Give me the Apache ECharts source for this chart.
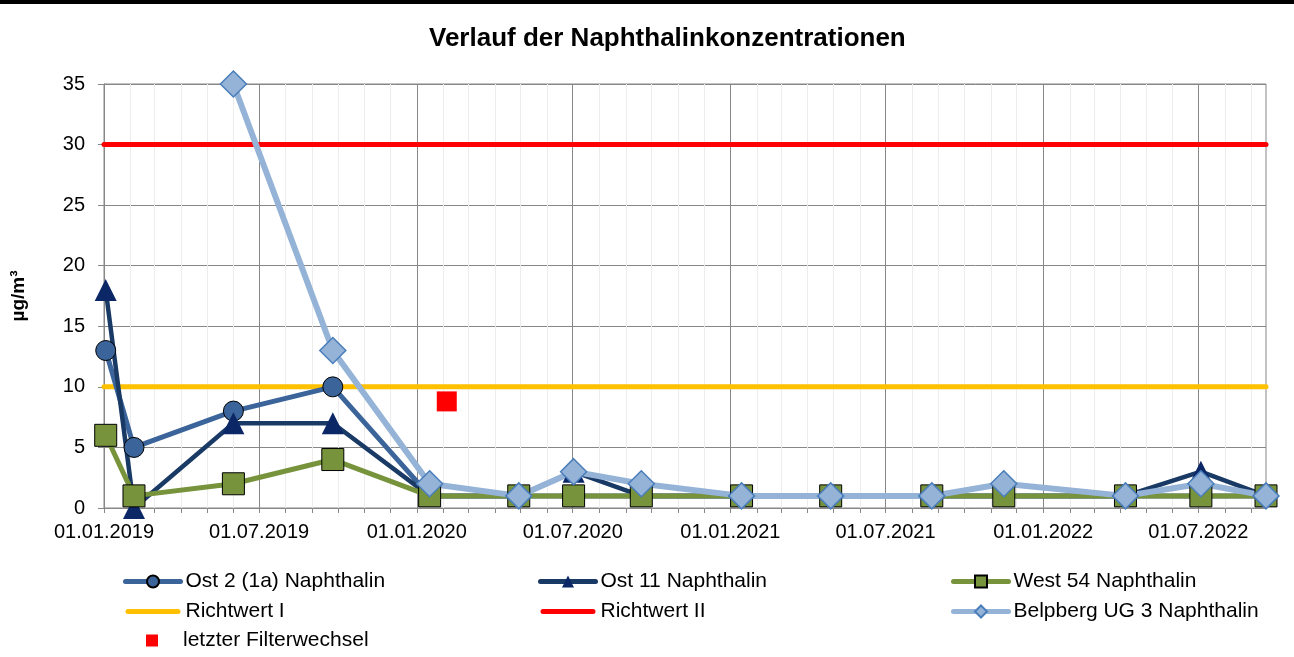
<!DOCTYPE html>
<html>
<head>
<meta charset="utf-8">
<title>Verlauf der Naphthalinkonzentrationen</title>
<script src="https://cdn.jsdelivr.net/npm/echarts@6/dist/echarts.min.js"></script>
<style>
  html, body { margin: 0; padding: 0; background: #fff; }
  #chart { width: 1294px; height: 657px; }
</style>
</head>
<body>
<div id="chart"></div>
<script>
// Messtermine und Werte (µg/m³)
var dates = ['2019-01-03', '2019-02-05', '2019-06-01', '2019-09-25', '2020-01-16', '2020-04-29', '2020-07-02',
             '2020-09-19', '2021-01-14', '2021-04-28', '2021-08-24', '2021-11-16', '2022-04-07', '2022-07-04', '2022-09-18'];
var ost2     = [13, 5, 8, 10, 1, 1, 1, 1, 1, 1, 1, 1, 1, 1, 1];
var ost11    = [18, 0, 7, 7, 1, 1, 3, 1, 1, 1, 1, 1, 1, 3, 1];
var west54   = [6, 1, 2, 4, 1, 1, 1, 1, 1, 1, 1, 1, 1, 1, 1];
var belpberg = [null, null, 35, 13, 2, 1, 3, 2, 1, 1, 1, 2, 1, 2, 1];

var filterDates  = ['2020-02-05'];
var filterValues = [8.8];

var richtDates = ['2019-01-01', '2022-09-18'];
var richtwert1 = [10, 10];
var richtwert2 = [30, 30];

var xLabelDates = ['2019-01-01', '2019-07-01', '2020-01-01', '2020-07-01',
                   '2021-01-01', '2021-07-01', '2022-01-01', '2022-07-01'];

var fontFamily = '"Liberation Sans", Arial, sans-serif';

// Datum als lokale Zeit (Zeitstempel in ms)
function ts(s) {
    var p = s.split('-');
    return new Date(+p[0], +p[1] - 1, +p[2]).getTime();
}
function pairs(xs, ys) {
    return xs.map(function (d, i) { return [ts(d), ys[i]]; });
}
function pad(n) { return n < 10 ? '0' + n : '' + n; }

var axisMin = ts(richtDates[0]);
var axisMax = ts(richtDates[1]);

// Monatliche Hilfslinien
var monthTicks = [];
for (var y = 2019; y <= 2022; y++) {
    for (var m = 0; m < 12; m++) {
        var t = new Date(y, m, 1).getTime();
        if (t >= axisMin && t <= axisMax) monthTicks.push(t);
    }
}
var gridColors = ['#878787', '#ececec', '#ececec', '#ececec', '#ececec', '#ececec'];

var barIcon = 'path://M2.5,0 L52.5,0 A2.5,2.5 0 0 1 52.5,5 L2.5,5 A2.5,2.5 0 0 1 2.5,0 Z';

var legendBase = {
    orient: 'vertical',
    itemWidth: 55,
    itemHeight: 15,
    itemGap: 9,
    padding: 0,
    top: 571,
    lineStyle: { width: 5, cap: 'round' },
    textStyle: { fontSize: 21, color: '#000', fontFamily: fontFamily }
};

var myChart = echarts.init(document.getElementById('chart'));
var option = {
    animation: false,
    backgroundColor: '#fff',
    textStyle: { fontFamily: fontFamily },
    graphic: [{
        type: 'rect', left: 0, top: 0,
        shape: { width: 1294, height: 4 },
        style: { fill: '#000' }
    }],
    title: {
        text: 'Verlauf der Naphthalinkonzentrationen',
        left: 429,
        top: 26,
        padding: 0,
        textStyle: { fontSize: 26, fontWeight: 'bold', color: '#000', fontFamily: fontFamily }
    },
    legend: [
        Object.assign({}, legendBase, {
            left: 123,
            data: ['Ost 2 (1a) Naphthalin',
                   { name: 'Richtwert I', icon: barIcon, itemStyle: { color: '#ffc000', borderWidth: 0 } }]
        }),
        Object.assign({}, legendBase, {
            left: 538,
            data: ['Ost 11 Naphthalin',
                   { name: 'Richtwert II', icon: barIcon, itemStyle: { color: '#ff0000', borderWidth: 0 } }]
        }),
        Object.assign({}, legendBase, {
            left: 951,
            data: ['West 54 Naphthalin', 'Belpberg UG 3 Naphthalin']
        }),
        Object.assign({}, legendBase, {
            left: 146,
            top: 630,
            itemWidth: 12,
            itemHeight: 12,
            textStyle: { fontSize: 21, color: '#000', fontFamily: fontFamily, padding: [0, 0, 0, 20] },
            data: [{ name: 'letzter Filterwechsel', icon: 'rect', itemStyle: { color: '#ff0000', opacity: 1 } }]
        })
    ],
    grid: {
        left: 104, right: 28, top: 84, bottom: 149,
        show: true, borderColor: '#878787', borderWidth: 1,
        outerBoundsMode: 'none'
    },
    xAxis: {
        type: 'value',
        min: axisMin,
        max: axisMax,
        axisLine: { lineStyle: { color: '#878787', width: 1 } },
        axisTick: { show: true, length: 5, lineStyle: { color: '#878787' }, customValues: monthTicks },
        axisLabel: {
            customValues: xLabelDates.map(ts),
            fontSize: 20,
            color: '#000',
            margin: 14,
            fontFamily: fontFamily,
            formatter: function (v) {
                var d = new Date(v);
                return pad(d.getDate()) + '.' + pad(d.getMonth() + 1) + '.' + d.getFullYear();
            }
        },
        splitLine: { show: true, lineStyle: { color: gridColors, width: 1 } }
    },
    yAxis: {
        type: 'value',
        min: 0,
        max: 35,
        interval: 5,
        name: 'µg/m³',
        nameLocation: 'middle',
        nameRotate: 90,
        nameGap: 76,
        nameTextStyle: { fontSize: 19, fontWeight: 'bold', color: '#000', fontFamily: fontFamily },
        axisLine: { show: true, lineStyle: { color: '#878787' } },
        axisTick: { show: true, length: 6, lineStyle: { color: '#878787' } },
        axisLabel: { fontSize: 20, color: '#000', margin: 19, fontFamily: fontFamily },
        splitLine: { lineStyle: { color: '#878787', width: 1 } }
    },
    series: [
        {
            name: 'Ost 2 (1a) Naphthalin',
            type: 'line',
            data: pairs(dates, ost2),
            symbol: 'circle',
            symbolSize: 20,
            clip: false,
            lineStyle: { color: '#3a649a', width: 5, cap: 'round', join: 'round' },
            itemStyle: { color: '#3a649a', borderColor: '#000', borderWidth: 1 }
        },
        {
            name: 'Ost 11 Naphthalin',
            type: 'line',
            data: pairs(dates, ost11),
            symbol: 'triangle',
            symbolSize: 22,
            clip: false,
            lineStyle: { color: '#1a3a66', width: 4.5, cap: 'round', join: 'round' },
            itemStyle: { color: '#0b2766', borderWidth: 0 }
        },
        {
            name: 'West 54 Naphthalin',
            type: 'line',
            data: pairs(dates, west54),
            symbol: 'rect',
            symbolSize: 22,
            clip: false,
            lineStyle: { color: '#77933c', width: 5, cap: 'round', join: 'round' },
            itemStyle: { color: '#77933c', borderColor: '#000', borderWidth: 1 }
        },
        {
            name: 'Richtwert I',
            type: 'line',
            z: 1,
            data: pairs(richtDates, richtwert1),
            symbol: 'none',
            lineStyle: { color: '#ffc000', width: 5, cap: 'round' },
            itemStyle: { color: '#ffc000' }
        },
        {
            name: 'Richtwert II',
            type: 'line',
            z: 1,
            data: pairs(richtDates, richtwert2),
            symbol: 'none',
            lineStyle: { color: '#ff0000', width: 5, cap: 'round' },
            itemStyle: { color: '#ff0000' }
        },
        {
            name: 'Belpberg UG 3 Naphthalin',
            type: 'line',
            data: pairs(dates, belpberg),
            connectNulls: false,
            symbol: 'diamond',
            symbolSize: 26,
            clip: false,
            lineStyle: { color: '#95b3d7', width: 6, cap: 'round', join: 'round' },
            itemStyle: { color: '#95b3d7', borderColor: '#4a7ebb', borderWidth: 1.5 }
        },
        {
            name: 'letzter Filterwechsel',
            type: 'scatter',
            z: 3,
            data: pairs(filterDates, filterValues),
            symbol: 'rect',
            symbolSize: 20,
            itemStyle: { color: '#ff0000', opacity: 1 }
        }
    ]
};
myChart.setOption(option);
</script>
</body>
</html>
